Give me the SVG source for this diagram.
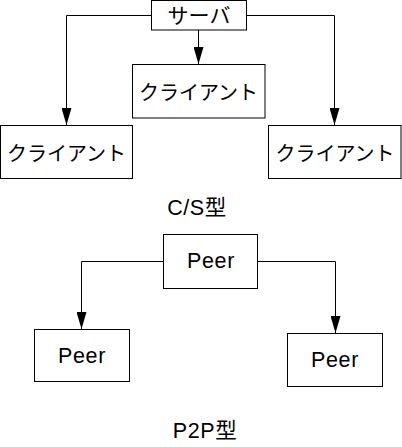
<svg xmlns="http://www.w3.org/2000/svg" width="402" height="447" viewBox="0 0 402 447">
<style>
.box{fill:#fff;stroke:#000;stroke-width:1}
.ln{fill:none;stroke:#000;stroke-width:1}
.t{font-family:"Liberation Sans","Noto Sans CJK JP",sans-serif;font-size:20px;fill:#000;text-anchor:middle}
.l{font-size:21.5px;letter-spacing:0.6px}
</style>
<defs>
<marker id="ah" markerUnits="userSpaceOnUse" markerWidth="17" markerHeight="10" refX="17" refY="5" viewBox="0 0 17 10" orient="auto">
<path d="M0,0 L17,5 L0,10 Z" fill="#000"/>
</marker>
</defs>
<g id="connectors">
<polyline class="ln" points="152,15.5 66.5,15.5 66.5,125" marker-end="url(#ah)"/>
<polyline class="ln" points="198.5,30 198.5,64" marker-end="url(#ah)"/>
<polyline class="ln" points="246.5,15.5 334.5,15.5 334.5,125" marker-end="url(#ah)"/>
<polyline class="ln" points="163.5,261.5 81.5,261.5 81.5,329" marker-end="url(#ah)"/>
<polyline class="ln" points="257.5,261.5 335.5,261.5 335.5,333" marker-end="url(#ah)"/>
</g>
<g id="server">
<rect class="box" x="151.5" y="0.5" width="95" height="29.5"/>
<text class="t" x="199" y="23" style="font-size:21px">サーバ</text>
</g>
<g id="client-center">
<rect class="box" x="132.5" y="64.5" width="132.5" height="53.5"/>
<text class="t" x="198.5" y="100">クライアント</text>
</g>
<g id="client-left">
<rect class="box" x="0.5" y="125.5" width="132" height="53"/>
<text class="t" x="66.5" y="161">クライアント</text>
</g>
<g id="client-right">
<rect class="box" x="268.5" y="125.5" width="132.5" height="53"/>
<text class="t" x="335" y="161">クライアント</text>
</g>
<g id="cs-label">
<text class="t l" x="197" y="215">C/S型</text>
</g>
<g id="peer-top">
<rect class="box" x="163.5" y="234.5" width="94" height="54"/>
<text class="t l" x="211" y="267.5">Peer</text>
</g>
<g id="peer-left">
<rect class="box" x="34.5" y="329.5" width="95" height="52"/>
<text class="t l" x="82" y="363">Peer</text>
</g>
<g id="peer-right">
<rect class="box" x="287.5" y="333.5" width="95" height="53"/>
<text class="t l" x="335" y="367">Peer</text>
</g>
<g id="p2p-label">
<text class="t l" x="205" y="438">P2P型</text>
</g>
</svg>
